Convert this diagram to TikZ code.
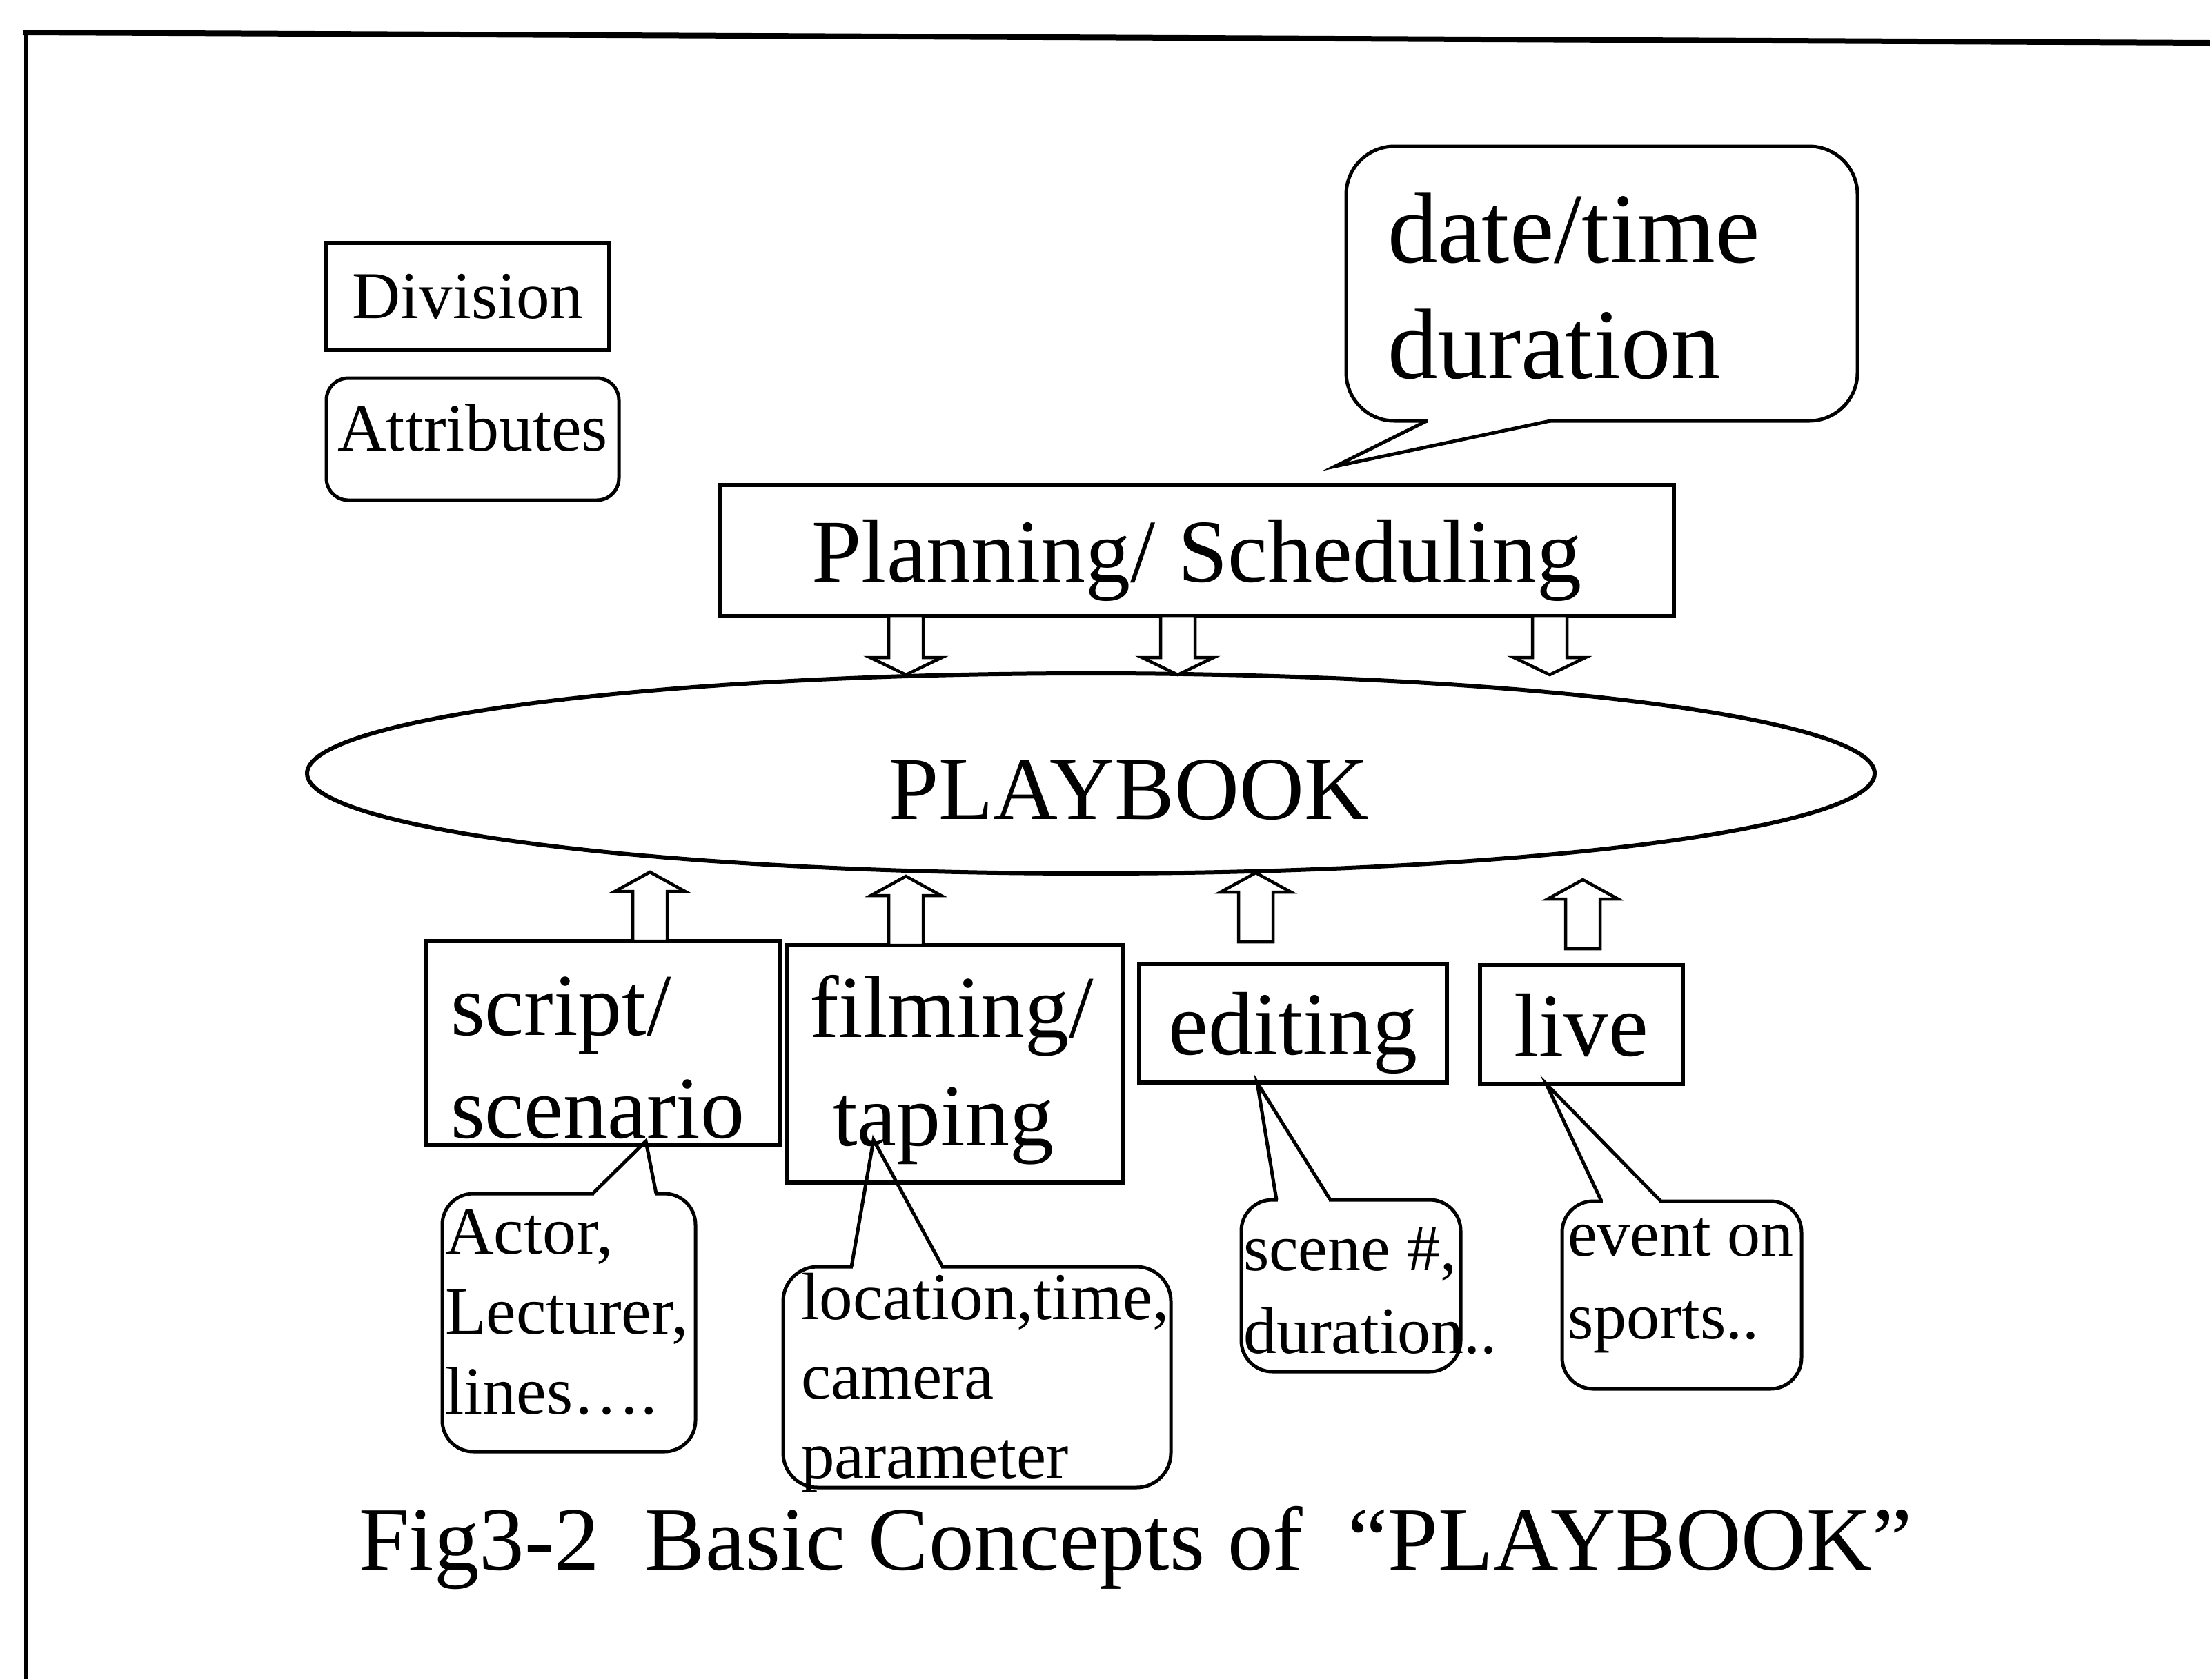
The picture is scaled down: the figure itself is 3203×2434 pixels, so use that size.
\documentclass[tikz,border=0pt]{standalone}
\usepackage{fontspec}
\setmainfont{Liberation Serif}
\usetikzlibrary{shapes.geometric,calc}

% left-aligned block of lines whose baseline is the first line's baseline
\newcommand\txtlines[1]{\begin{tabular}[t]{@{}l@{}}#1\end{tabular}}

\tikzset{
  every node/.style={inner sep=0pt, outer sep=0pt},
  divbox/.style={draw, line width=6pt, fill=white, text depth=0pt},
  attrbox/.style={draw, line width=5pt, rounded corners=45pt, fill=white},
  calltail/.style={draw, line width=5pt, line join=miter},
  blockarrow/.style={draw, line width=4.5pt, fill=white, line join=miter},
  darrow/.pic={\path[blockarrow] (-25,0) -- (-25,60) -- (-52,60) -- (0,85)
      -- (52,60) -- (25,60) -- (25,0) -- cycle;},
  uarrow/.pic={\path[blockarrow] (-25,0) -- (-25,-72) -- (-51,-72) -- (0,-100)
      -- (51,-72) -- (25,-72) -- (25,0) -- cycle;},
}

\begin{document}
\begin{tikzpicture}[x=1pt, y=-1pt]
\useasboundingbox (0,0) rectangle (3203,2434);

% page frame (top and left rules)
\draw[line width=8pt] (34,47) -- (3203,62);
\draw[line width=5pt] (37,47) -- (37,2434);

% legend
\node[divbox, minimum width=410pt, minimum height=155pt,
      font=\fontsize{97}{110}\selectfont] (division) at (678,429.5) {Division};
\node[attrbox, minimum width=424pt, minimum height=177pt, rounded corners=32pt,
      text height=33pt, text depth=0pt,
      font=\fontsize{98}{110}\selectfont] (attributes) at (685,636.5) {Attributes};

% speech bubble for the schedule attributes
\node[attrbox, rounded corners=70pt, minimum width=741pt, minimum height=398pt]
      (bubble) at (2321.5,411) {};
\coordinate (bubbletip) at (1935,676);
\coordinate (bubbleL) at (2068,610);
\coordinate (bubbleR) at (2247,610);
\fill[white] ($(bubbleL)+(2,-4)$) rectangle ($(bubbleR)+(-2,4)$);
\draw[calltail] (bubbleL) -- (bubbletip) -- (bubbleR);
\node[anchor=base west, font=\fontsize{145}{168}\selectfont] (bubbletext)
      at (2011,380) {\txtlines{date/time\\duration}};

% planning box
\node[divbox, minimum width=1383pt, minimum height=190pt,
      font=\fontsize{130}{150}\selectfont] (plan) at (1734.5,798) {Planning/ Scheduling};

% playbook ellipse
\node[draw, ellipse, line width=6pt, minimum width=2272pt, minimum height=290pt]
      (pb) at (1581,1121) {};
\node[anchor=base west, font=\fontsize{130}{150}\selectfont] (pbtext)
      at (1288,1187) {PLAYBOOK};

% arrows from planning into the playbook
\pic at ([xshift=-421.5pt]plan.south) {darrow};
\pic at ([xshift=-27.5pt]plan.south) {darrow};
\pic at ([xshift=511.5pt]plan.south) {darrow};

% division boxes
\node[divbox, minimum width=514pt, minimum height=296pt] (script) at (874,1512) {};
\node[anchor=base west, font=\fontsize{128}{149}\selectfont] (scripttext)
      at (653,1500) {\txtlines{script/\\scenario}};
\node[divbox, minimum width=487pt, minimum height=344pt] (film) at (1384.5,1542) {};
\node[anchor=base west, font=\fontsize{128}{157}\selectfont] (filmtext)
      at (1173,1503) {\txtlines{filming/\\\hspace*{34pt}taping}};
\node[divbox, minimum width=446pt, minimum height=172pt,
      font=\fontsize{130}{150}\selectfont] (edit) at (1874,1483) {editing};
\node[divbox, minimum width=294pt, minimum height=172pt,
      font=\fontsize{130}{150}\selectfont] (live) at (2292,1485) {live};

% arrows from the divisions into the playbook
\pic at ([xshift=68pt]script.north) {uarrow};
\pic at ([xshift=-71.5pt]film.north) {uarrow};
\pic at ([xshift=-54pt,yshift=32pt]edit.north) {uarrow};
\pic at ([xshift=2pt,yshift=24pt]live.north) {uarrow};

% attribute callouts
\node[attrbox, minimum width=367pt, minimum height=374pt] (actor) at (824.5,1917) {};
\coordinate (actortip) at (936,1654);
\coordinate (actorL) at (859,1730);
\coordinate (actorR) at (951,1730);
\fill[white] ($(actorL)+(2,-4)$) rectangle ($(actorR)+(-2,4)$);
\draw[calltail] (actorL) -- (actortip) -- (actorR);
\node[anchor=base west, font=\fontsize{98}{116}\selectfont] (actortext)
      at (645,1817) {\txtlines{Actor,\\Lecturer,\\lines….}};

\node[attrbox, rounded corners=50pt, minimum width=562pt, minimum height=320pt]
      (loc) at (1416,1996) {};
\coordinate (loctip) at (1266,1652);
\coordinate (locL) at (1234,1836);
\coordinate (locR) at (1366,1836);
\fill[white] ($(locL)+(2,-4)$) rectangle ($(locR)+(-2,4)$);
\draw[calltail] (locL) -- (loctip) -- (locR);
\node[anchor=base west, font=\fontsize{97}{115}\selectfont] (loctext)
      at (1161,1912) {\txtlines{location,time,\\camera\\parameter}};

\node[attrbox, minimum width=318pt, minimum height=249pt] (scene) at (1958,1863.5) {};
\coordinate (scenetip) at (1822,1569);
\coordinate (sceneL) at (1850,1739);
\coordinate (sceneR) at (1928,1739);
\fill[white] ($(sceneL)+(2,-4)$) rectangle ($(sceneR)+(-2,4)$);
\draw[calltail] (sceneL) -- (scenetip) -- (sceneR);
\node[anchor=base west, font=\fontsize{96}{120}\selectfont] (scenetext)
      at (1802,1841) {\txtlines{scene \#,\\duration..}};

\node[attrbox, minimum width=347pt, minimum height=272pt] (event) at (2437.5,1877) {};
\coordinate (eventtip) at (2241,1571);
\coordinate (eventL) at (2321,1741);
\coordinate (eventR) at (2407,1741);
\fill[white] ($(eventL)+(2,-4)$) rectangle ($(eventR)+(-2,4)$);
\draw[calltail] (eventL) -- (eventtip) -- (eventR);
\node[anchor=base west, font=\fontsize{96}{120}\selectfont] (eventtext)
      at (2272,1820) {\txtlines{event on\\sports..}};

% caption
\node[anchor=base west, font=\fontsize{131}{150}\selectfont] (caption)
      at (520,2275) {Fig3-2\ \ Basic Concepts of\ \ “PLAYBOOK”};
\end{tikzpicture}
\end{document}
